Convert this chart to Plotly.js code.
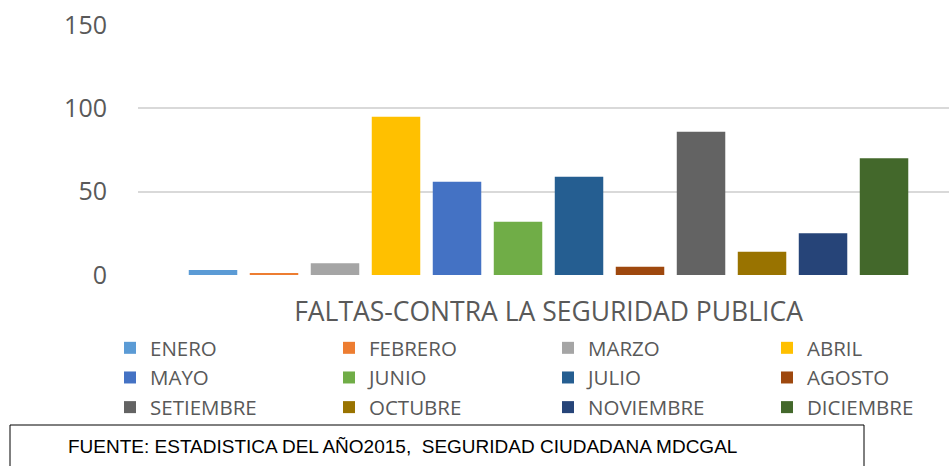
<!DOCTYPE html>
<html>
<head>
<meta charset="utf-8">
<script src="https://cdn.plot.ly/plotly-3.0.1.min.js"></script>
<style>html,body{margin:0;padding:0;background:#fff;}#chart{width:949px;height:466px;}</style>
</head>
<body>
<div id="chart"></div>
<script>
const category = ["FALTAS-CONTRA LA SEGURIDAD PUBLICA"];
const months = ["ENERO","FEBRERO","MARZO","ABRIL","MAYO","JUNIO","JULIO","AGOSTO","SETIEMBRE","OCTUBRE","NOVIEMBRE","DICIEMBRE"];
const values = [3, 1, 7, 95, 56, 32, 59, 5, 86, 14, 25, 70];
const colors = ["#5B9BD5","#ED7D31","#A5A5A5","#FFC000","#4472C4","#70AD47","#255E91","#9E480E","#636363","#997300","#264478","#43682B"];
const yTicks = [0, 50, 100, 150];
const sourceText = "FUENTE: ESTADISTICA DEL AÑO2015,  SEGURIDAD CIUDADANA MDCGAL";

const traces = months.map((m, i) => ({
  type: "bar",
  name: m,
  x: category,
  y: [values[i]],
  marker: {color: colors[i]},
  hoverinfo: "name+y"
}));

const layout = {
  width: 949,
  height: 466,
  margin: {l: 138, r: 0, t: 25, b: 191, autoexpand: false},
  paper_bgcolor: "#ffffff",
  plot_bgcolor: "#ffffff",
  font: {family: "Open Sans, sans-serif", color: "#595959"},
  barmode: "group",
  bargap: 0,
  bargroupgap: 0.205,
  xaxis: {
    type: "category",
    range: [-0.5608, 0.5471],
    showgrid: false,
    showline: false,
    zeroline: false,
    ticks: "",
    tickfont: {size: 26.5, color: "#595959"},
    ticklabelstandoff: 18
  },
  yaxis: {
    range: [0, 150],
    tickvals: yTicks,
    ticktext: yTicks.map(String),
    showgrid: true,
    gridcolor: "#d9d9d9",
    gridwidth: 1.5,
    zeroline: false,
    showline: false,
    ticks: "",
    tickfont: {size: 25, color: "#595959"},
    ticklabelstandoff: 30
  },
  showlegend: true,
  legend: {
    orientation: "h",
    x: (110 - 138) / 811,
    xanchor: "left",
    y: (275 - 328) / 250,
    yanchor: "top",
    entrywidth: 174,
    entrywidthmode: "pixels",
    traceorder: "normal",
    font: {size: 20.5, color: "#595959"},
    bgcolor: "rgba(0,0,0,0)"
  },
  shapes: [{
    type: "rect",
    xref: "paper", yref: "paper",
    x0: (10 - 138) / 811, x1: (864 - 138) / 811,
    y0: (275 - 425) / 250, y1: (275 - 472) / 250,
    line: {color: "#000000", width: 1},
    fillcolor: "rgba(0,0,0,0)"
  }],
  annotations: [{
    xref: "paper", yref: "paper",
    x: (66 - 138) / 811, y: (275 - 446) / 250,
    xanchor: "left", yanchor: "middle",
    showarrow: false,
    text: sourceText,
    font: {family: "Liberation Sans, Arial, sans-serif", size: 19, color: "#000000"}
  }]
};

Plotly.newPlot("chart", traces, layout, {displayModeBar: false, responsive: false});
</script>
</body>
</html>
